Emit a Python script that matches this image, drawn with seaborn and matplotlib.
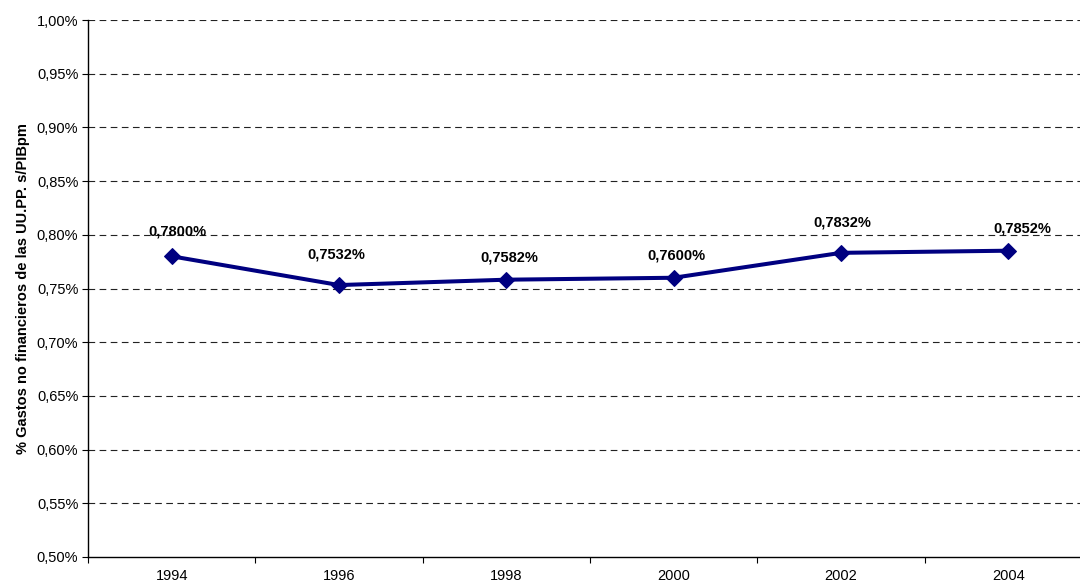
import matplotlib
matplotlib.use("Agg")
import matplotlib.pyplot as plt
import seaborn as sns
import pandas as pd
import numpy as np
from matplotlib.ticker import FixedLocator, FuncFormatter

years = ["1994", "1996", "1998", "2000", "2002", "2004"]
values = [0.7800, 0.7532, 0.7582, 0.7600, 0.7832, 0.7852]
labels = ["0,7800%", "0,7532%", "0,7582%", "0,7600%", "0,7832%", "0,7852%"]
ylabel = "% Gastos no financieros de las UU.PP. s/PIBpm"

sns.set_theme(style="white")
plt.rcParams['font.family'] = ['Liberation Sans', 'DejaVu Sans']
plt.rcParams['text.color'] = 'black'
plt.rcParams['axes.labelcolor'] = 'black'
plt.rcParams['xtick.color'] = 'black'
plt.rcParams['ytick.color'] = 'black'

df = pd.DataFrame({"pos": np.arange(len(years)), "value": values})

fig = plt.figure(figsize=(10.8, 5.86), dpi=100)
ax = fig.add_axes([88/1080, 1 - 557/586, (1092 - 88)/1080, (557 - 20)/586])

sns.lineplot(data=df, x="pos", y="value", ax=ax, color="#000080",
             linewidth=2.9, marker="D", markersize=8, markeredgecolor="#000080",
             markerfacecolor="#000080")

# label offsets (points) for value labels: (dx, dy)
offsets = [(4, 18), (-2, 22), (2, 16), (2, 16), (1, 22), (10, 16)]
for i, (v, t) in enumerate(zip(values, labels)):
    dx, dy = offsets[i]
    ax.annotate(t, (i, v), xytext=(dx, dy), textcoords="offset points",
                ha="center", va="center", fontsize=10.5, fontweight="bold",
                color="black")

ax.set_xlim(-0.5, len(years) - 0.5)
ax.set_ylim(0.50, 1.00)
yt = np.round(np.arange(0.50, 1.0001, 0.05), 2)
ax.yaxis.set_major_locator(FixedLocator(yt))
ax.yaxis.set_major_formatter(FuncFormatter(lambda v, p: f"{v:.2f}%".replace(".", ",")))

ax.xaxis.set_major_locator(FixedLocator(np.arange(-0.5, len(years), 1.0)))
ax.xaxis.set_major_formatter(FuncFormatter(lambda v, p: ""))
ax.set_xticks(np.arange(len(years)), labels=years, minor=True)
ax.tick_params(bottom=True, left=True)
ax.tick_params(axis="x", which="minor", bottom=True, length=0, pad=9, labelsize=10.5,
               labelcolor="black")
ax.tick_params(axis="x", which="major", bottom=True, length=4, width=0.8, color="black",
               direction="out")
ax.tick_params(axis="y", which="major", left=True, length=4, width=0.8, color="black",
               direction="out", labelsize=10.5, pad=3, labelcolor="black")

for v in yt[1:]:
    ax.axhline(v, color="#222222", linewidth=0.8, linestyle=(0, (6, 4)), zorder=0)

ax.set_xlabel("")
ax.set_ylabel(ylabel, fontsize=10.5, fontweight="bold", labelpad=5, color="black")

for s in ["top", "right"]:
    ax.spines[s].set_visible(False)
for s in ["left", "bottom"]:
    ax.spines[s].set_visible(True)
    ax.spines[s].set_color("black")
    ax.spines[s].set_linewidth(1.0)

fig.savefig("out.png", dpi=100)
